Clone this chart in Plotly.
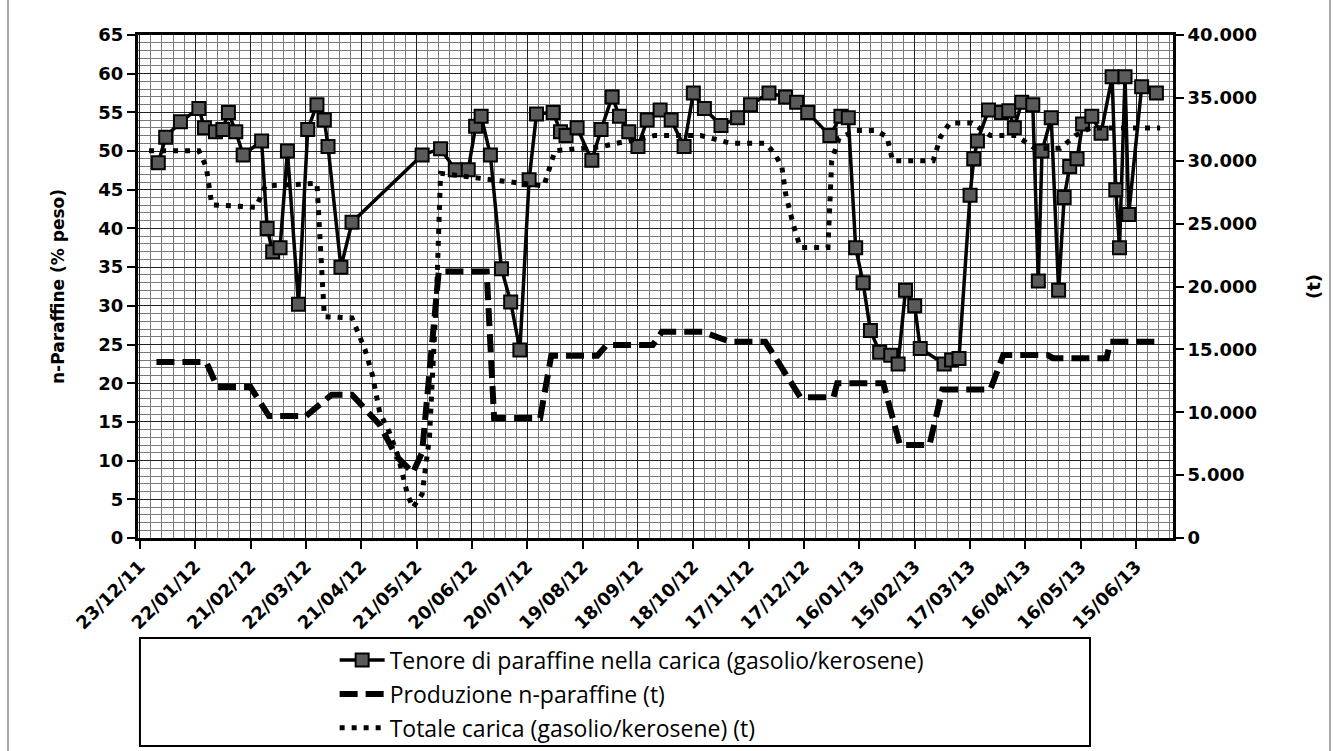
import plotly.graph_objects as go

# ---------------- data ----------------
tenore_dates = [
    "2012-01-02", "2012-01-06", "2012-01-14", "2012-01-24", "2012-01-27", "2012-02-02",
    "2012-02-06", "2012-02-09", "2012-02-13", "2012-02-17", "2012-02-27", "2012-03-01",
    "2012-03-04", "2012-03-08", "2012-03-12", "2012-03-18", "2012-03-23", "2012-03-28",
    "2012-04-01", "2012-04-03", "2012-04-10", "2012-04-16", "2012-05-24", "2012-06-03",
    "2012-06-11", "2012-06-18", "2012-06-22", "2012-06-25", "2012-06-30", "2012-07-06",
    "2012-07-11", "2012-07-16", "2012-07-21", "2012-07-25", "2012-08-03", "2012-08-07",
    "2012-08-10", "2012-08-16", "2012-08-24", "2012-08-29", "2012-09-04", "2012-09-08",
    "2012-09-13", "2012-09-18", "2012-09-23", "2012-09-30", "2012-10-06", "2012-10-13",
    "2012-10-18", "2012-10-24", "2012-11-02", "2012-11-11", "2012-11-18", "2012-11-28",
    "2012-12-07", "2012-12-13", "2012-12-19", "2012-12-31", "2013-01-06", "2013-01-10",
    "2013-01-14", "2013-01-18", "2013-01-22", "2013-01-27", "2013-02-02", "2013-02-06",
    "2013-02-10", "2013-02-15", "2013-02-18", "2013-03-03", "2013-03-07", "2013-03-11",
    "2013-03-17", "2013-03-19", "2013-03-21", "2013-03-27", "2013-04-03", "2013-04-07",
    "2013-04-10", "2013-04-14", "2013-04-20", "2013-04-23", "2013-04-25", "2013-04-30",
    "2013-05-04", "2013-05-07", "2013-05-10", "2013-05-14", "2013-05-17", "2013-05-22",
    "2013-05-27", "2013-06-02", "2013-06-04", "2013-06-06", "2013-06-09", "2013-06-11",
    "2013-06-18", "2013-06-26",
]
tenore_vals = [
    48.5, 51.8, 53.8, 55.5, 53.0, 52.5,
    52.8, 55.0, 52.5, 49.5, 51.3, 40.0,
    37.0, 37.5, 50.0, 30.2, 52.8, 56.0,
    54.0, 50.6, 35.0, 40.8, 49.5, 50.3,
    47.6, 47.6, 53.2, 54.5, 49.5, 34.8,
    30.5, 24.3, 46.3, 54.8, 55.0, 52.5,
    52.0, 53.0, 48.8, 52.8, 57.0, 54.5,
    52.5, 50.6, 54.0, 55.3, 54.0, 50.6,
    57.5, 55.5, 53.3, 54.3, 56.0, 57.5,
    57.0, 56.3, 55.0, 52.0, 54.5, 54.3,
    37.5, 33.0, 26.8, 24.0, 23.6, 22.5,
    32.0, 30.0, 24.5, 22.5, 23.0, 23.2,
    44.3, 49.0, 51.3, 55.3, 55.0, 55.2,
    53.0, 56.3, 56.0, 33.2, 50.0, 54.3,
    32.0, 44.0, 48.0, 49.0, 53.5, 54.5,
    52.3, 59.6, 45.0, 37.5, 59.6, 41.8,
    58.3, 57.5,
]

prod_dates = [
    "2012-01-01", "2012-01-28", "2012-02-03", "2012-02-21", "2012-03-02", "2012-03-22",
    "2012-04-05", "2012-04-16", "2012-05-01", "2012-05-10", "2012-05-19", "2012-05-24",
    "2012-06-02", "2012-06-28", "2012-07-02", "2012-07-27", "2012-08-02", "2012-08-27",
    "2012-09-01", "2012-09-26", "2012-10-01", "2012-10-23", "2012-11-07", "2012-11-26",
    "2012-12-15", "2013-01-02", "2013-01-04", "2013-01-29", "2013-02-07", "2013-02-23",
    "2013-03-02", "2013-03-28", "2013-04-04", "2013-04-28", "2013-05-01", "2013-05-30",
    "2013-06-01", "2013-06-28",
]
prod_vals = [
    14000, 14000, 12000, 12000, 9700, 9700,
    11400, 11400, 9000, 6500, 5200, 6800,
    21200, 21200, 9550, 9550, 14500, 14500,
    15350, 15350, 16400, 16400, 15600, 15600,
    11200, 11200, 12300, 12300, 7400, 7400,
    11800, 11800, 14550, 14550, 14300, 14300,
    15600, 15600,
]

carica_dates = [
    "2011-12-28", "2012-01-24", "2012-01-28", "2012-01-31", "2012-02-24", "2012-02-29",
    "2012-03-28", "2012-04-01", "2012-04-16", "2012-04-20", "2012-04-23", "2012-04-27",
    "2012-05-01", "2012-05-06", "2012-05-11", "2012-05-16", "2012-05-19", "2012-05-24",
    "2012-05-28", "2012-06-01", "2012-06-03", "2012-06-30", "2012-07-29", "2012-08-04",
    "2012-08-28", "2012-09-27", "2012-10-22", "2012-11-07", "2012-11-26", "2012-12-01",
    "2012-12-05", "2012-12-07", "2012-12-11", "2012-12-15", "2012-12-30", "2013-01-01",
    "2013-01-05", "2013-01-14", "2013-01-25", "2013-01-31", "2013-02-03", "2013-02-25",
    "2013-03-01", "2013-03-06", "2013-03-18", "2013-03-28", "2013-04-11", "2013-04-21",
    "2013-05-05", "2013-05-13", "2013-05-21", "2013-06-28",
]
carica_vals = [
    30800, 30800, 29500, 26500, 26300, 28000,
    28200, 17600, 17500, 16000, 15000, 13000,
    10000, 8500, 6500, 3500, 2400, 3500,
    8000, 20000, 29000, 28500, 28000, 30800,
    31100, 32000, 32000, 31400, 31400, 30600,
    29500, 27400, 25000, 23100, 23100, 30000,
    31800, 32400, 32400, 31900, 30000, 30000,
    31900, 33000, 33000, 32000, 32000, 31000,
    31000, 32000, 32600, 32600,
]

x_tick_dates = [
    "2011-12-23", "2012-01-22", "2012-02-21", "2012-03-22", "2012-04-21", "2012-05-21",
    "2012-06-20", "2012-07-20", "2012-08-19", "2012-09-18", "2012-10-18", "2012-11-17",
    "2012-12-17", "2013-01-16", "2013-02-15", "2013-03-17", "2013-04-16", "2013-05-16",
    "2013-06-15",
]
x_tick_labels = [
    "23/12/11", "22/01/12", "21/02/12", "22/03/12", "21/04/12", "21/05/12",
    "20/06/12", "20/07/12", "19/08/12", "18/09/12", "18/10/12", "17/11/12",
    "17/12/12", "16/01/13", "15/02/13", "17/03/13", "16/04/13", "16/05/13",
    "15/06/13",
]
left_ticks = [0, 5, 10, 15, 20, 25, 30, 35, 40, 45, 50, 55, 60, 65]
right_ticks = [0, 5000, 10000, 15000, 20000, 25000, 30000, 35000, 40000]
right_labels = ["0", "5.000", "10.000", "15.000", "20.000", "25.000", "30.000", "35.000", "40.000"]

names = [
    "Tenore di paraffine nella carica (gasolio/kerosene)",
    "Produzione n-paraffine (t)",
    "Totale carica (gasolio/kerosene) (t)",
]

# ---------------- figure ----------------
fig = go.Figure()

fig.add_trace(go.Scatter(
    x=carica_dates, y=carica_vals, name=names[2], yaxis="y2", mode="lines",
    line=dict(color="black", width=5, dash="5px,7px"),
    legendgroup="c", legendrank=3,
))
fig.add_trace(go.Scatter(
    x=prod_dates, y=prod_vals, name=names[1], yaxis="y2", mode="lines",
    line=dict(color="black", width=6, dash="18px,8px"),
    legendgroup="b", legendrank=2,
))
fig.add_trace(go.Scatter(
    x=tenore_dates, y=tenore_vals, name=names[0], mode="lines+markers",
    line=dict(color="black", width=3.5),
    marker=dict(symbol="square", size=13, color="#5a5a5a", line=dict(color="black", width=2)),
    legendgroup="a", legendrank=1,
))

tick_font = dict(family="DejaVu Sans", size=18, color="black", weight="bold")

fig.update_layout(
    width=1334, height=751,
    margin=dict(l=138, r=161, t=35, b=213, autoexpand=False),
    paper_bgcolor="white", plot_bgcolor="white",
    showlegend=True,
    legend=dict(
        x=0.19, y=-0.2, xanchor="left", yanchor="top",
        orientation="v", traceorder="grouped", tracegroupgap=1,
        itemwidth=45,
        font=dict(family="Open Sans", size=23, color="black"),
        bgcolor="rgba(0,0,0,0)",
    ),
    xaxis=dict(
        type="date",
        range=["2011-12-22", "2013-07-05"],
        tickvals=x_tick_dates, ticktext=x_tick_labels,
        tickangle=-45, tickfont=tick_font,
        ticks="outside", ticklen=8, tickwidth=2, tickcolor="black",
        showline=True, linecolor="black", linewidth=3, mirror=True,
        showgrid=True, gridcolor="#222222", gridwidth=1,
        minor=dict(tick0="2011-12-23", dtick=6 * 86400000, showgrid=True,
                   gridcolor="#7a7a7a", gridwidth=1),
        zeroline=False,
    ),
    yaxis=dict(
        range=[0, 65], tickvals=left_ticks, tickfont=tick_font,
        ticks="outside", ticklen=8, tickwidth=2, tickcolor="black",
        showline=True, linecolor="black", linewidth=3,
        showgrid=True, gridcolor="#222222", gridwidth=1,
        minor=dict(dtick=1, showgrid=True, gridcolor="#7a7a7a", gridwidth=1),
        zeroline=False,
        title=dict(text="n-Paraffine (% peso)", font=dict(family="DejaVu Sans", size=17,
                   color="black", weight="bold"), standoff=30),
    ),
    yaxis2=dict(
        overlaying="y", side="right", range=[0, 40000],
        tickvals=right_ticks, ticktext=right_labels, tickfont=tick_font,
        ticks="outside", ticklen=8, tickwidth=2, tickcolor="black",
        showline=True, linecolor="black", linewidth=3,
        showgrid=False, zeroline=False,
        title=dict(text="(t)", font=dict(family="DejaVu Sans", size=18,
                   color="black", weight="bold"), standoff=52),
    ),
    shapes=[
        dict(type="rect", xref="paper", yref="paper", x0=0.0019, x1=0.9198,
             y0=-0.1988, y1=-0.4135, line=dict(color="black", width=2)),
        dict(type="line", xref="paper", yref="paper", x0=-0.1256, x1=-0.1256,
             y0=-0.4235, y1=1.0696, line=dict(color="#555", width=1)),
        dict(type="line", xref="paper", yref="paper", x0=1.1517, x1=1.1517,
             y0=-0.4235, y1=1.0696, line=dict(color="#555", width=1)),
    ],
)

fig.write_html("out.html", config={"displayModeBar": False},
               post_script="document.body.style.margin='0px';")
